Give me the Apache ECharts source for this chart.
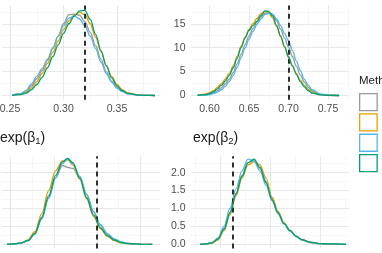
<!DOCTYPE html>
<html>
<head>
<meta charset="utf-8">
<script src="https://cdn.jsdelivr.net/npm/echarts@6/dist/echarts.min.js"></script>
<style>
  html, body { margin: 0; padding: 0; background: #fff; }
  #chart { width: 382px; height: 253px; }
</style>
</head>
<body>
<div id="chart"></div>
<script>
const methods = ['MCMC', 'INLA', 'VB', 'EP'];
const colors = ['#999999', '#E69F00', '#56B4E9', '#009E73'];
const trueValues = [0.3168, 0.699, 1.395, 0.852];

// top-left panel
const p1X = [0.252, 0.26, 0.265, 0.27, 0.275, 0.28, 0.285, 0.29, 0.295, 0.30, 0.305, 0.31, 0.315, 0.32, 0.325, 0.33, 0.335, 0.34, 0.345, 0.35, 0.355, 0.36, 0.37, 0.38, 0.3855];
const p1Gray = [0.1, 0.4, 0.9, 2.0, 3.5, 5.2, 7.3, 9.8, 12.4, 15.0, 16.9, 17.0, 16.8, 15.4, 13.2, 10.4, 7.6, 5.0, 3.0, 1.7, 0.9, 0.4, 0.1, 0.02, 0];
const p1Yellow = [0.05, 0.3, 0.7, 1.6, 2.9, 4.6, 6.7, 9.0, 11.4, 13.8, 15.6, 16.8, 17.4, 16.9, 15.0, 12.2, 9.2, 6.3, 4.0, 2.3, 1.2, 0.55, 0.12, 0.02, 0];
const p1Blue = [0.1, 0.4, 1.0, 2.4, 4.0, 5.6, 7.6, 10.0, 12.4, 14.6, 16.2, 16.6, 16.0, 14.6, 12.4, 9.8, 7.0, 4.6, 2.8, 1.5, 0.8, 0.35, 0.08, 0.02, 0];
const p1Green = [0.03, 0.2, 0.5, 1.2, 2.3, 3.8, 5.8, 8.1, 10.6, 13.0, 15.0, 16.6, 17.7, 17.8, 15.9, 12.8, 9.4, 6.2, 3.7, 2.0, 1.0, 0.45, 0.08, 0.01, 0];

// top-right panel
const p2X = [0.585, 0.595, 0.60, 0.605, 0.61, 0.615, 0.62, 0.625, 0.63, 0.635, 0.64, 0.645, 0.65, 0.655, 0.66, 0.665, 0.67, 0.675, 0.68, 0.685, 0.69, 0.695, 0.70, 0.705, 0.71, 0.715, 0.72, 0.725, 0.73, 0.74, 0.75, 0.764];
const p2Gray = [0.03, 0.15, 0.3, 0.6, 1.0, 1.6, 2.4, 3.4, 4.8, 6.6, 8.6, 10.6, 12.4, 14.0, 15.3, 16.4, 17.2, 17.4, 16.8, 15.6, 13.9, 12.0, 10.1, 8.1, 6.1, 4.3, 2.8, 1.7, 0.9, 0.25, 0.05, 0];
const p2Yellow = [0.08, 0.3, 0.6, 1.0, 1.7, 2.5, 3.4, 4.6, 6.2, 8.2, 10.3, 12.2, 13.8, 15.0, 16.1, 17.1, 17.6, 17.3, 16.2, 14.4, 12.3, 10.1, 8.0, 6.2, 4.6, 3.2, 2.1, 1.3, 0.7, 0.2, 0.05, 0];
const p2Blue = [0.02, 0.1, 0.2, 0.4, 0.7, 1.2, 1.9, 2.9, 4.2, 5.9, 7.9, 9.9, 11.8, 13.4, 14.8, 16.0, 16.9, 17.2, 17.0, 16.0, 14.6, 13.0, 11.4, 9.4, 7.2, 5.2, 3.4, 2.1, 1.2, 0.35, 0.08, 0];
const p2Green = [0.05, 0.2, 0.4, 0.8, 1.4, 2.1, 3.0, 4.2, 5.8, 7.8, 10.0, 12.0, 13.6, 14.6, 15.5, 16.7, 17.7, 17.6, 16.6, 14.6, 12.4, 10.2, 8.1, 6.2, 4.4, 2.9, 1.8, 1.0, 0.5, 0.15, 0.04, 0];

// bottom-left panel, exp(beta1)
const p3X = [0.983, 1.015, 1.048, 1.08, 1.112, 1.144, 1.176, 1.208, 1.24, 1.264, 1.288, 1.32, 1.352, 1.384, 1.416, 1.448, 1.48, 1.512, 1.544, 1.576, 1.608, 1.656];
const p3Gray = [0, 0.01, 0.04, 0.11, 0.3, 0.72, 1.3, 1.85, 2.2, 2.15, 2.12, 1.88, 1.38, 0.9, 0.52, 0.28, 0.14, 0.06, 0.025, 0.01, 0, 0];
const p3Yellow = [0, 0.01, 0.04, 0.12, 0.35, 0.85, 1.5, 2.05, 2.33, 2.36, 2.22, 1.82, 1.27, 0.78, 0.43, 0.22, 0.1, 0.04, 0.02, 0.01, 0, 0];
const p3Blue = [0, 0.01, 0.03, 0.1, 0.28, 0.7, 1.28, 1.85, 2.25, 2.38, 2.25, 1.9, 1.4, 0.92, 0.55, 0.3, 0.15, 0.07, 0.03, 0.01, 0, 0];
const p3Green = [0, 0.01, 0.04, 0.1, 0.3, 0.75, 1.35, 1.92, 2.3, 2.4, 2.28, 1.85, 1.3, 0.82, 0.46, 0.24, 0.12, 0.05, 0.02, 0.01, 0, 0];

// bottom-right panel, exp(beta2)
const p4X = [0.72, 0.744, 0.768, 0.792, 0.816, 0.84, 0.864, 0.888, 0.912, 0.936, 0.96, 0.984, 1.008, 1.032, 1.056, 1.08, 1.104, 1.128, 1.16, 1.20, 1.24, 1.304];
const p4Gray = [0, 0.01, 0.04, 0.14, 0.44, 0.9, 1.42, 1.92, 2.28, 2.33, 2.12, 1.75, 1.3, 0.9, 0.6, 0.39, 0.23, 0.13, 0.06, 0.02, 0.01, 0];
const p4Yellow = [0, 0.01, 0.03, 0.12, 0.38, 0.82, 1.35, 1.85, 2.22, 2.3, 2.22, 1.85, 1.32, 0.92, 0.6, 0.38, 0.22, 0.12, 0.05, 0.02, 0.01, 0];
const p4Blue = [0, 0.01, 0.05, 0.18, 0.5, 1.0, 1.55, 2.05, 2.38, 2.32, 2.05, 1.65, 1.22, 0.86, 0.57, 0.37, 0.22, 0.12, 0.05, 0.02, 0.01, 0];
const p4Green = [0, 0.01, 0.04, 0.15, 0.42, 0.88, 1.4, 1.9, 2.28, 2.38, 2.15, 1.72, 1.25, 0.88, 0.58, 0.38, 0.23, 0.13, 0.06, 0.02, 0.01, 0];

const panelX = [p1X, p2X, p3X, p4X];
const panelDens = [
  [p1Gray, p1Yellow, p1Blue, p1Green],
  [p2Gray, p2Yellow, p2Blue, p2Green],
  [p3Gray, p3Yellow, p3Blue, p3Green],
  [p4Gray, p4Yellow, p4Blue, p4Green]
];

// panel boxes and axis ranges
const layout = [
  { left: 2,   top: 5.6,   width: 158, height: 94.2, xMin: 0.24252, xMax: 0.39019, yMin: -0.9,  yMax: 18.8, xSplit: 3, ySplit: 4, xLab: true,  yLab: false, yDig: 0 },
  { left: 191, top: 5.6,   width: 158, height: 94.2, xMin: 0.57658, xMax: 0.77658, yMin: -0.9,  yMax: 18.8, xSplit: 4, ySplit: 4, xLab: true,  yLab: true,  yDig: 0 },
  { left: 2,   top: 156.2, width: 158, height: 92.4, xMin: 0.96019, xMax: 1.69167, yMin: -0.12, yMax: 2.46, xSplit: 4, ySplit: 5, xLab: false, yLab: false, yDig: 1 },
  { left: 191, top: 156.2, width: 158, height: 92.4, xMin: 0.684,   xMax: 1.316,   yMin: -0.12, yMax: 2.46, xSplit: 4, ySplit: 5, xLab: false, yLab: true,  yDig: 1 }
];

const font = '"Liberation Sans", Arial, sans-serif';
const majorLine = { show: true, showMinLine: false, showMaxLine: false, lineStyle: { color: '#e8e8e8', width: 1 } };
const minorLine = { show: true, lineStyle: { color: '#f1f1f1', width: 0.6 } };

const grids = layout.map(l => ({ left: l.left, top: l.top, width: l.width, height: l.height, containLabel: false, outerBoundsMode: 'none' }));

const xAxes = layout.map((l, i) => ({
  type: 'value', gridIndex: i, min: l.xMin, max: l.xMax, splitNumber: l.xSplit,
  axisLine: { show: false }, axisTick: { show: false },
  axisLabel: { show: l.xLab, showMinLabel: false, showMaxLabel: false, margin: 4, fontSize: 10.5, color: '#4d4d4d', fontFamily: font,
    formatter: v => v.toFixed(2) },
  splitLine: majorLine,
  minorTick: { show: false, splitNumber: 2 },
  minorSplitLine: minorLine
}));

const yAxes = layout.map((l, i) => ({
  type: 'value', gridIndex: i, min: l.yMin, max: l.yMax, splitNumber: l.ySplit,
  axisLine: { show: false }, axisTick: { show: false },
  axisLabel: { show: l.yLab, showMinLabel: false, showMaxLabel: false, margin: 5.5, fontSize: 10.5, color: '#4d4d4d', fontFamily: font,
    formatter: v => v.toFixed(l.yDig) },
  splitLine: majorLine,
  minorTick: { show: false, splitNumber: 2 },
  minorSplitLine: minorLine
}));

const series = [];
panelX.forEach((xs, p) => {
  panelDens[p].forEach((ys, m) => {
    series.push({
      type: 'line', name: methods[m], xAxisIndex: p, yAxisIndex: p,
      data: xs.map((x, k) => [x, ys[k]]),
      showSymbol: false, symbol: 'none', smooth: 0.35, smoothMonotone: 'x',
      lineStyle: { color: colors[m], width: 1.3 },
      itemStyle: { color: colors[m], borderColor: colors[m] },
      z: 2 + m, silent: true
    });
  });
  series.push({
    type: 'line', xAxisIndex: p, yAxisIndex: p, data: [], z: 10, silent: true,
    markLine: {
      silent: true, symbol: ['none', 'none'], label: { show: false },
      lineStyle: { type: [5, 4], color: '#1a1a1a', width: 1.8 },
      data: [{ xAxis: trueValues[p] }]
    }
  });
});

const stripRich = {
  a: { fontSize: 14, fontWeight: 'normal', color: '#1a1a1a', fontFamily: font, lineHeight: 16 },
  s: { fontSize: 9.5, fontWeight: 'normal', color: '#1a1a1a', fontFamily: font, verticalAlign: 'bottom', lineHeight: 6 }
};

const chart = echarts.init(document.getElementById('chart'), null, { renderer: 'canvas' });
chart.setOption({
  animation: false,
  backgroundColor: '#ffffff',
  grid: grids,
  xAxis: xAxes,
  yAxis: yAxes,
  title: [
    { text: '{a|exp(β}{s|1}{a|)}', left: 0, top: 130, padding: 0, textStyle: { fontWeight: 'normal', rich: stripRich } },
    { text: '{a|exp(β}{s|2}{a|)}', left: 193, top: 130, padding: 0, textStyle: { fontWeight: 'normal', rich: stripRich } },
    { text: 'Method', left: 359, top: 75, padding: 0, textStyle: { fontSize: 11.5, fontWeight: 'normal', color: '#1a1a1a', fontFamily: font } }
  ],
  legend: {
    orient: 'vertical', left: 359, top: 93, padding: 0,
    itemWidth: 17.5, itemHeight: 17, itemGap: 2, icon: 'rect', selectedMode: false,
    textStyle: { fontSize: 11, color: '#1a1a1a', fontFamily: font },
    data: methods.map((m, i) => ({ name: m, itemStyle: { color: '#ffffff', borderColor: colors[i], borderWidth: 1.3 } }))
  },
  series: series
});
</script>
</body>
</html>
